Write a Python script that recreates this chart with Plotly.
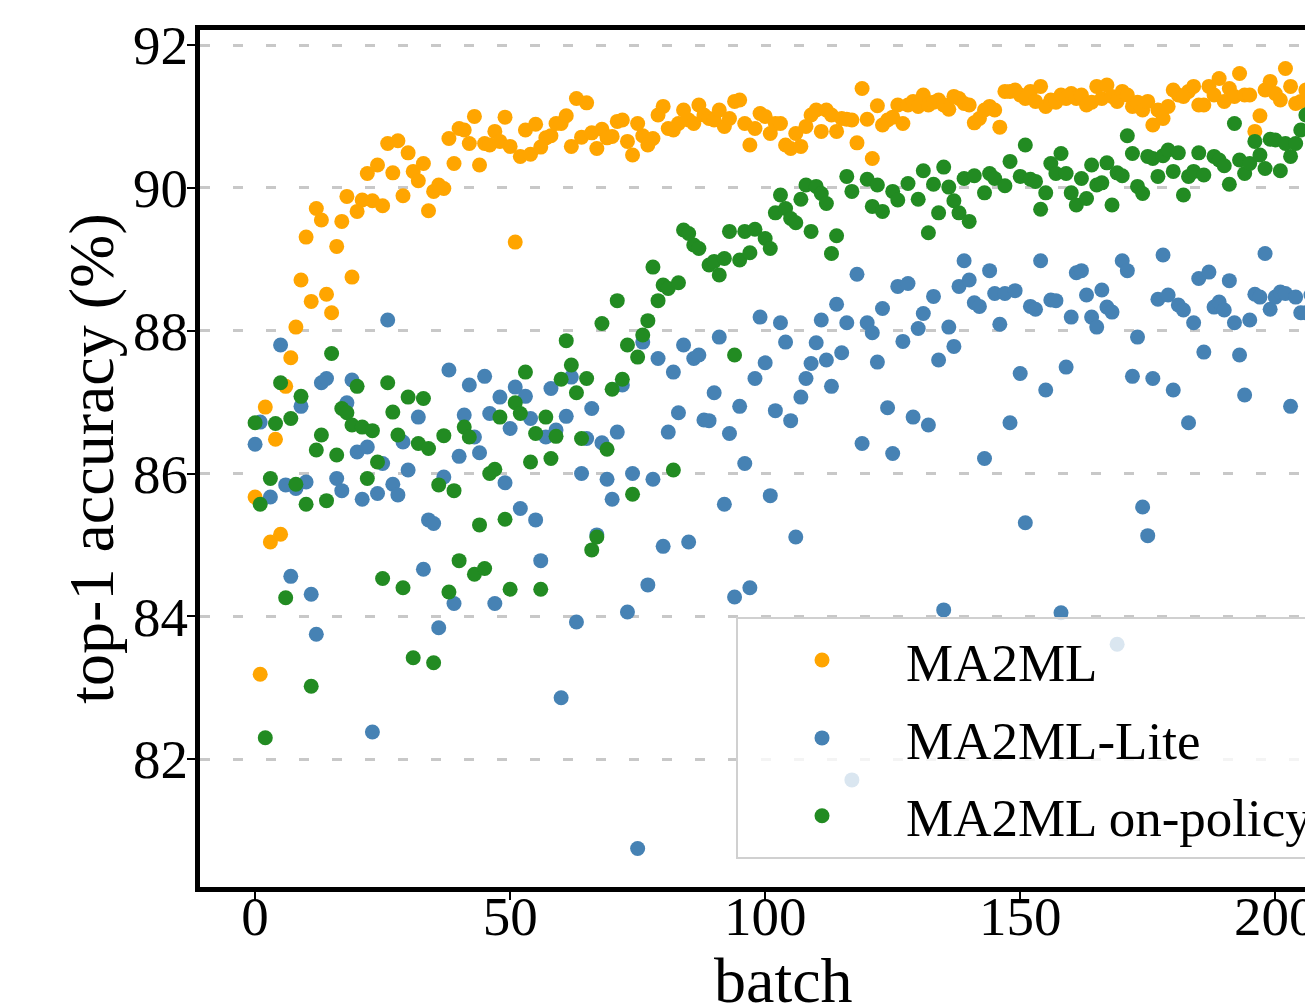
import plotly.graph_objects as go

# ---------------- data ----------------
ma2ml_batch = list(range(0, 208))
ma2ml_acc = [
    85.67, 83.19, 86.93, 85.04, 86.48, 85.15, 87.22, 87.62, 88.05, 88.71,
    89.31, 88.41, 89.71, 89.55, 88.51, 88.25, 89.18, 89.53, 89.88, 88.75,
    89.67, 89.83, 90.20, 89.82, 90.32, 89.75, 90.62, 90.21, 90.66, 89.89,
    90.49, 90.23, 90.10, 90.34, 89.68, 89.95, 90.04, 89.99, 90.69, 90.34,
    90.83, 90.81, 90.62, 91.00, 90.32, 90.62, 90.60, 90.79, 90.65, 90.99,
    90.58, 89.24, 90.44, 90.81, 90.47, 90.89, 90.57, 90.70, 90.73, 90.90,
    90.90, 91.01, 90.58, 91.25, 90.71, 91.19, 90.77, 90.55, 90.82, 90.70,
    90.72, 90.93, 90.95, 90.65, 90.46, 90.90, 90.73, 90.60, 90.69, 91.02,
    91.14, 90.83, 90.81, 90.90, 91.09, 90.95, 90.90, 91.16, 91.02, 90.97,
    90.95, 91.09, 90.86, 90.97, 91.21, 91.23, 90.90, 90.60, 90.83, 91.04,
    91.00, 90.76, 90.90, 90.90, 90.60, 90.55, 90.76, 90.58, 90.86, 91.02,
    91.09, 90.79, 91.09, 91.02, 90.79, 90.97, 90.96, 90.95, 90.63, 91.39,
    90.96, 90.41, 91.15, 90.88, 90.95, 90.99, 91.16, 90.90, 91.16, 91.21,
    91.14, 91.30, 91.16, 91.20, 91.23, 91.16, 91.10, 91.28, 91.25, 91.18,
    91.16, 90.91, 90.97, 91.09, 91.14, 91.09, 90.85, 91.35, 91.35, 91.37,
    91.30, 91.25, 91.35, 91.21, 91.42, 91.14, 91.23, 91.20, 91.30, 91.25,
    91.32, 91.25, 91.30, 91.16, 91.20, 91.42, 91.25, 91.44, 91.28, 91.21,
    91.35, 91.30, 91.14, 91.20, 91.09, 91.21, 90.88, 91.09, 90.97, 91.14,
    91.37, 91.30, 91.28, 91.35, 91.42, 91.16, 91.16, 91.42, 91.30, 91.53,
    91.21, 91.39, 91.28, 91.60, 91.30, 91.30, 90.79, 91.01, 91.37, 91.49,
    91.32, 91.23, 91.67, 91.42, 91.18, 91.21, 91.37, 91.30,
]

lite_batch = [
    0, 1, 3, 5, 6, 7, 8, 9, 10, 11, 12, 13, 14, 16, 17, 18, 19, 20, 21, 22,
    23, 24, 25, 26, 27, 28, 29, 30, 32, 33, 34, 35, 36, 37, 38, 39, 40, 41, 42, 43,
    44, 45, 46, 47, 48, 49, 50, 51, 52, 53, 54, 55, 56, 57, 58, 59, 60, 61, 62, 63,
    64, 65, 66, 67, 68, 69, 70, 71, 72, 73, 74, 75, 76, 77, 78, 79, 80, 81, 82, 83,
    84, 85, 86, 87, 88, 89, 90, 91, 92, 93, 94, 95, 96, 97, 98, 99, 100, 101, 102, 103,
    104, 105, 106, 107, 108, 109, 110, 111, 112, 113, 114, 115, 116, 117, 118, 119, 120, 121, 122, 123,
    124, 125, 126, 127, 128, 129, 130, 131, 132, 133, 134, 135, 136, 137, 138, 139, 140, 141, 142, 143,
    144, 145, 146, 147, 148, 149, 150, 151, 152, 153, 154, 155, 156, 157, 158, 159, 160, 161, 162, 163,
    164, 165, 166, 167, 168, 169, 170, 171, 172, 173, 174, 175, 176, 177, 178, 179, 180, 181, 182, 183,
    184, 185, 186, 187, 188, 189, 190, 191, 192, 193, 194, 195, 196, 197, 198, 199, 200, 201, 202, 203,
    204, 205, 206, 207, 208,
]
lite_acc = [
    86.41, 86.72, 85.67, 87.80, 85.84, 84.56, 85.79, 86.94, 85.88, 84.31,
    83.75, 87.27, 87.33, 85.93, 85.76, 86.99, 87.31, 86.30, 85.64, 86.37,
    82.38, 85.72, 86.14, 88.15, 85.85, 85.70, 86.44, 86.05, 86.79, 84.66,
    85.35, 85.30, 83.84, 85.95, 87.45, 84.18, 86.24, 86.82, 87.24, 86.51,
    86.29, 87.36, 86.84, 84.18, 87.07, 85.87, 86.63, 87.21, 85.51, 87.08,
    86.77, 85.35, 84.78, 86.51, 87.19, 86.61, 82.86, 86.80, 87.35, 83.92,
    86.00, 86.49, 86.91, 85.14, 86.43, 85.92, 85.64, 86.58, 87.24, 84.06,
    86.00, 80.75, 87.84, 84.44, 85.92, 87.61, 84.98, 86.58, 87.42, 86.85,
    87.80, 85.04, 87.61, 87.66, 86.75, 86.74, 87.13, 87.91, 85.57, 86.56,
    84.27, 86.94, 86.14, 84.40, 87.33, 88.19, 87.55, 85.69, 86.88, 88.11,
    87.84, 86.74, 85.11, 87.07, 87.33, 87.54, 87.83, 88.15, 87.59, 87.22,
    88.37, 87.69, 88.11, 81.71, 88.79, 86.42, 88.11, 87.97, 87.56, 88.31,
    86.92, 86.28, 88.62, 87.85, 88.66, 86.79, 88.03, 88.24, 86.68, 88.48,
    87.59, 84.09, 88.05, 87.78, 88.62, 88.98, 88.71, 88.39, 88.34, 86.21,
    88.84, 88.52, 88.09, 88.52, 86.71, 88.56, 87.40, 85.31, 88.34, 88.30,
    88.98, 87.17, 88.43, 88.42, 84.05, 87.49, 88.19, 88.81, 88.84, 88.50,
    88.19, 88.05, 88.57, 88.33, 88.26, 83.61, 88.98, 88.84, 87.36, 87.91,
    85.53, 85.13, 87.33, 88.44, 89.06, 88.50, 87.17, 88.36, 88.29, 86.71,
    88.11, 88.73, 87.70, 88.82, 88.33, 88.40, 88.29, 88.70, 88.11, 87.66,
    87.10, 88.15, 88.51, 88.47, 89.08, 88.30, 88.47, 88.54, 88.52, 86.94,
    88.47, 88.25, 88.25, 88.50, 88.84,
]

onpolicy_batch = [
    0, 1, 2, 3, 4, 5, 6, 7, 8, 9, 10, 11, 12, 13, 14, 15, 16, 17, 18, 19,
    20, 21, 22, 23, 24, 25, 26, 27, 28, 29, 30, 31, 32, 33, 34, 35, 36, 37, 38, 39,
    40, 41, 42, 43, 44, 45, 46, 47, 48, 49, 50, 51, 52, 53, 54, 55, 56, 57, 58, 59,
    60, 61, 62, 63, 64, 65, 66, 67, 68, 69, 70, 71, 72, 73, 74, 75, 76, 77, 78, 79,
    80, 81, 82, 83, 84, 85, 86, 87, 89, 90, 91, 92, 93, 94, 95, 96, 97, 98, 100, 101,
    102, 103, 104, 105, 106, 107, 108, 109, 110, 111, 112, 113, 114, 116, 117, 120, 121, 122, 123, 125,
    126, 128, 130, 131, 132, 133, 134, 135, 136, 137, 138, 139, 140, 141, 143, 144, 145, 147, 148, 150,
    151, 152, 153, 154, 155, 156, 157, 158, 159, 160, 161, 162, 163, 164, 165, 166, 167, 168, 169, 170,
    171, 172, 173, 174, 175, 176, 177, 178, 179, 180, 181, 182, 183, 184, 185, 186, 188, 189, 190, 191,
    192, 193, 194, 195, 196, 197, 198, 199, 200, 201, 202, 203, 204, 205, 206, 207, 208,
]
onpolicy_acc = [
    86.71, 85.57, 82.30, 85.93, 86.70, 87.27, 84.26, 86.77, 85.85, 87.08,
    85.57, 83.02, 86.33, 86.54, 85.62, 87.68, 86.26, 86.91, 86.85, 86.68,
    87.22, 86.65, 85.93, 86.60, 86.16, 84.53, 87.27, 86.86, 86.54, 84.40,
    87.07, 83.42, 86.42, 87.05, 86.35, 83.35, 85.84, 86.53, 84.34, 85.76,
    84.78, 86.65, 86.51, 84.59, 85.28, 84.67, 86.00, 86.06, 86.79, 85.36,
    84.38, 86.99, 86.84, 87.42, 86.16, 86.56, 84.38, 86.79, 86.21, 86.52,
    87.32, 87.86, 87.52, 87.13, 86.49, 87.33, 84.93, 85.11, 88.10, 86.34,
    87.18, 88.42, 87.32, 87.80, 85.71, 87.63, 87.94, 88.14, 88.89, 88.42,
    88.64, 88.59, 86.05, 88.67, 89.41, 89.36, 89.20, 89.15, 88.92, 88.97,
    88.78, 89.01, 89.39, 87.66, 88.99, 89.39, 89.09, 89.42, 89.29, 89.15,
    89.65, 89.90, 89.71, 89.57, 89.51, 89.84, 90.04, 89.39, 90.02, 89.92,
    89.78, 89.08, 89.33, 90.16, 89.95, 90.12, 89.74, 90.04, 89.67, 89.95,
    89.83, 90.06, 89.84, 90.24, 89.37, 90.05, 89.65, 90.29, 90.01, 89.82,
    89.65, 90.13, 89.53, 90.17, 89.93, 90.20, 90.13, 90.03, 90.37, 90.16,
    90.60, 90.12, 90.09, 89.70, 89.93, 90.34, 90.20, 90.48, 90.20, 89.93,
    89.76, 90.13, 89.85, 90.32, 90.04, 90.07, 90.35, 89.76, 90.21, 90.17,
    90.73, 90.48, 90.02, 89.92, 90.44, 90.41, 90.16, 90.45, 90.53, 90.23,
    90.49, 89.90, 90.16, 90.23, 90.49, 90.18, 90.44, 90.39, 90.31, 90.05,
    90.90, 90.39, 90.20, 90.34, 90.65, 90.46, 90.27, 90.68, 90.67, 90.24,
    90.62, 90.44, 90.62, 90.81, 91.02, 91.07, 91.14,
]

series_names = ["MA2ML", "MA2ML-Lite", "MA2ML on-policy"]
series_colors = ["#FFA500", "#4682B4", "#228B22"]
x_ticks = [0, 50, 100, 150, 200]
y_ticks = [82, 84, 86, 88, 90, 92]
x_title = "batch"
y_title = "top-1 accuracy (%)"

# ---------------- figure ----------------
FONT = "Liberation Serif, Times New Roman, serif"
fig = go.Figure()
for i, (name, xs, ys, col) in enumerate(zip(
        series_names,
        [ma2ml_batch, lite_batch, onpolicy_batch],
        [ma2ml_acc, lite_acc, onpolicy_acc],
        series_colors)):
    fig.add_trace(go.Scatter(
        x=xs, y=ys, mode="markers", name=name, legendgroup=f"g{i}",
        marker=dict(size=15, color=col, line=dict(width=0)),
    ))

fig.update_layout(
    width=1305, height=996,
    margin=dict(l=192, r=0, t=22, b=117, autoexpand=False),
    plot_bgcolor="white", paper_bgcolor="white",
    font=dict(family=FONT, color="black"),
    showlegend=True,
    legend=dict(
        x=0.4816, y=0.315, xanchor="left", yanchor="top",
        bgcolor="rgba(255,255,255,0.8)", bordercolor="#d0d0d0", borderwidth=2,
        font=dict(family=FONT, size=53, color="black"),
        itemwidth=158, tracegroupgap=6,
    ),
    xaxis=dict(
        range=[-10.8, 207.4], tickvals=x_ticks, ticks="outside", ticklen=8,
        tickwidth=2, tickcolor="black", showline=True, linecolor="black",
        linewidth=5, mirror=True, showgrid=False, zeroline=False,
        ticklabeloverflow="allow", ticklabelstandoff=-31,
        tickfont=dict(family=FONT, size=55, color="black"),
    ),
    yaxis=dict(
        range=[80.21, 92.21], tickvals=y_ticks, ticks="outside", ticklen=8,
        tickwidth=2, tickcolor="black", showline=True, linecolor="black",
        linewidth=5, mirror=False, showgrid=True, gridcolor="#c8c8c8",
        gridwidth=2.5, griddash="10px,23px", zeroline=False,
        ticklabelstandoff=-12,
        tickfont=dict(family=FONT, size=55, color="black"),
        title=dict(text=y_title,
                   font=dict(family=FONT, size=64, color="black"), standoff=0),
    ),
    annotations=[dict(
        text=x_title, xref="paper", yref="paper", x=0.524, y=-0.065,
        xanchor="center", yanchor="top", showarrow=False,
        font=dict(family=FONT, size=64, color="black"),
    )],
)

fig.write_html("out.html")
